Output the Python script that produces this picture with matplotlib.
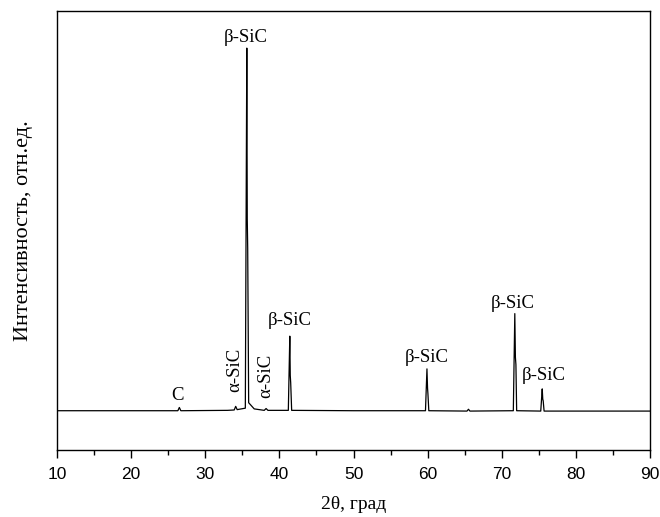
import matplotlib
matplotlib.use('Agg')
import matplotlib.pyplot as plt
from matplotlib.ticker import MultipleLocator

# XRD pattern (intensity in % of the strongest peak)
two_theta = [10.0, 20.0, 26.3, 26.5, 26.7, 33.0, 33.9, 34.1, 34.3,
             35.4, 35.6, 35.66, 35.72, 35.85, 36.6, 37.95, 38.2, 38.45,
             41.2, 41.4, 41.46, 41.52, 41.65, 50.0, 59.7, 59.9, 59.98,
             60.03, 60.15, 65.3, 65.5, 65.7, 71.55, 71.75, 71.83, 71.9,
             72.0, 75.25, 75.45, 75.52, 75.58, 75.7, 90.0]
intensity = [0.3, 0.3, 0.3, 1.2, 0.3, 0.4, 0.5, 1.5, 0.6,
             1.0, 100.0, 53.0, 45.0, 2.5, 0.8, 0.4, 0.9, 0.4,
             0.4, 20.8, 10.0, 8.0, 0.4, 0.3, 0.3, 11.8, 6.5,
             5.0, 0.3, 0.2, 0.7, 0.2, 0.3, 27.0, 15.0, 13.0,
             0.3, 0.2, 6.3, 3.5, 3.0, 0.2, 0.2]

# phase labels: text, x, y, rotation
labels = ['β-SiC', 'β-SiC', 'β-SiC', 'β-SiC', 'β-SiC', 'C', 'α-SiC', 'α-SiC']
label_x = [35.5, 41.4, 59.9, 71.5, 75.6, 26.3, 34.0, 38.2]
label_y = [103.0, 25.0, 14.9, 29.8, 9.9, 4.6, 11.5, 9.9]
label_rot = [0, 0, 0, 0, 0, 0, 90, 90]

serif = 'Liberation Serif'

fig = plt.figure(figsize=(6.6, 5.17), dpi=100)
ax = fig.add_axes([0.0864, 0.1296, 0.8986, 0.8491])

ax.plot(two_theta, intensity, color='black', linewidth=0.9)

for t, x, y, r in zip(labels, label_x, label_y, label_rot):
    ax.text(x, y, t, rotation=r, ha='center', va='center',
            fontsize=13.5, family=serif)

ax.set_xlim(10, 90)
ax.set_ylim(-10.5, 110.2)

ax.xaxis.set_major_locator(MultipleLocator(10))
ax.xaxis.set_minor_locator(MultipleLocator(5))
ax.tick_params(axis='x', which='major', direction='out', length=6, width=1,
               labelsize=12.5, pad=6)
ax.tick_params(axis='x', which='minor', direction='out', length=3.5, width=1)
ax.tick_params(axis='y', left=False, labelleft=False)
for lab in ax.get_xticklabels():
    lab.set_family('Liberation Sans')

for s in ax.spines.values():
    s.set_linewidth(1.0)

ax.set_xlabel('2θ, град', fontsize=14, family=serif, labelpad=10)
ax.set_ylabel('Интенсивность, отн.ед.', fontsize=16, family=serif, labelpad=17)

fig.savefig('out.png', dpi=100, facecolor='white')
